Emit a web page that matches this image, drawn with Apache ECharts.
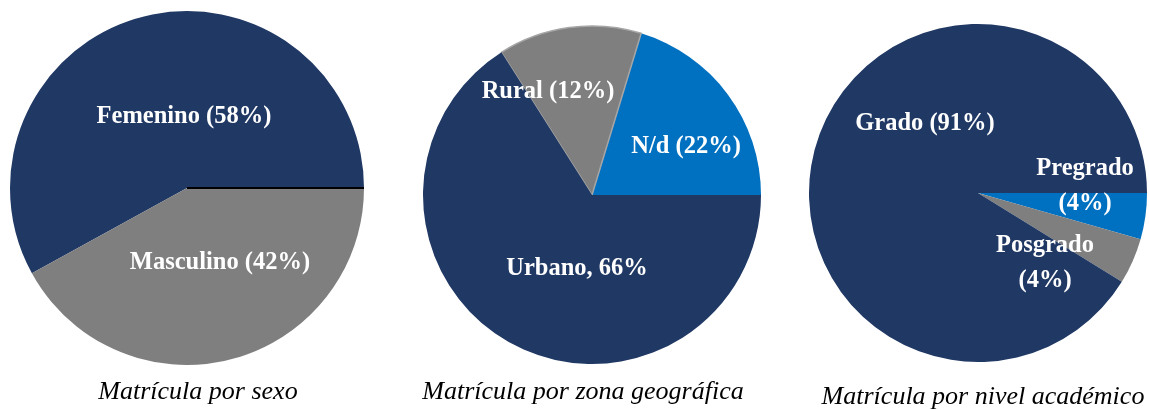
<!DOCTYPE html>
<html>
<head>
<meta charset="utf-8">
<script src="https://cdn.jsdelivr.net/npm/echarts@6/dist/echarts.min.js"></script>
<style>
	html, body { margin: 0; padding: 0; background: #fff; }
	#main { width: 1149px; height: 410px; }
</style>
</head>
<body>
<div id="main"></div>
<script>
// datos
var sexoNames = ['Femenino', 'Masculino'];
var sexoValues = [58, 42];
var sexoLabels = ['Femenino (58%)', 'Masculino (42%)'];

var zonaNames = ['N/d', 'Rural', 'Urbano'];
var zonaValues = [20.3, 13.7, 66];
var zonaLabels = ['N/d (22%)', 'Rural (12%)', 'Urbano, 66%'];

var nivelNames = ['Pregrado', 'Posgrado', 'Grado'];
var nivelValues = [4.4, 4.4, 91.2];
var nivelLabels = ['Pregrado\n(4%)', 'Posgrado\n(4%)', 'Grado (91%)'];

var titulos = ['Matrícula por sexo', 'Matrícula por zona geográfica', 'Matrícula por nivel académico'];

// colores
var navy = '#203864', gris = '#7f7f7f', azul = '#0070c0';

// posicion de cada pastel y de sus etiquetas (respecto al centro)
var pies = [
	{ c: [187, 188], r: 177, colors: [navy, gris], cw: false, off: [[-3, -71], [33, 75]] },
	{ c: [592, 195], r: 169, colors: [azul, gris, navy], cw: false, off: [[94, -48], [-44, -103], [-15, 74]] },
	{ c: [978, 193], r: 169, colors: [azul, gris, navy], cw: true, off: [[107, -7], [67, 70], [-53, -69]] }
];

function buildData(names, values, labels, colors, idx) {
	return names.map(function(n, i) {
		var d = {
			name: n,
			value: values[i],
			lbl: labels[i],
			itemStyle: { color: colors[i], borderWidth: 0 }
		};
		if (idx === 1 && n === 'Rural') {
			d.itemStyle.borderWidth = 1.5;
			d.itemStyle.borderColor = '#a6a6a6';
		}
		return d;
	});
}

var sets = [
	[sexoNames, sexoValues, sexoLabels],
	[zonaNames, zonaValues, zonaLabels],
	[nivelNames, nivelValues, nivelLabels]
];

var series = sets.map(function(s, k) {
	var p = pies[k];
	return {
		type: 'pie',
		center: p.c,
		radius: p.r,
		startAngle: 0,
		clockwise: p.cw,
		avoidLabelOverlap: false,
		silent: true,
		label: {
			show: true,
			position: 'inside',
			color: '#fff',
			fontFamily: 'Liberation Serif',
			fontWeight: 'bold',
			fontSize: 24.5,
			lineHeight: 35,
			formatter: function(prm) { return prm.data.lbl; }
		},
		labelLine: { show: false },
		labelLayout: function(prm) {
			var o = p.off[prm.dataIndex];
			return { x: p.c[0] + o[0], y: p.c[1] + o[1], align: 'center', verticalAlign: 'middle' };
		},
		data: buildData(s[0], s[1], s[2], p.colors, k)
	};
});

var titleX = [198, 583, 983];
var titleTop = [379, 379, 384];

var option = {
	animation: false,
	title: titulos.map(function(t, i) {
		return {
			text: t,
			left: titleX[i],
			top: titleTop[i],
			textAlign: 'center',
			padding: 0,
			textStyle: {
				fontFamily: 'Liberation Serif',
				fontStyle: 'italic',
				fontWeight: 'normal',
				fontSize: 26,
				color: '#000'
			}
		};
	}),
	graphic: [{
		type: 'line',
		z: 100,
		shape: { x1: pies[0].c[0], y1: pies[0].c[1], x2: pies[0].c[0] + pies[0].r, y2: pies[0].c[1] },
		style: { stroke: '#000', lineWidth: 2 }
	}],
	series: series
};

var myChart = echarts.init(document.getElementById('main'));
myChart.setOption(option);
</script>
</body>
</html>
